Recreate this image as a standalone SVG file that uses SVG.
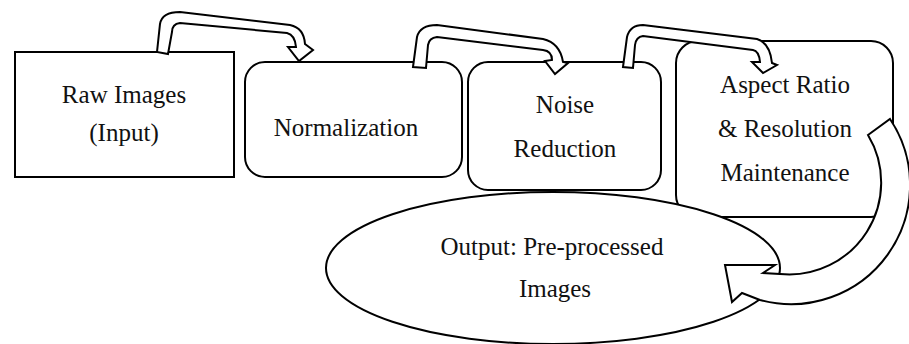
<svg xmlns="http://www.w3.org/2000/svg" width="909" height="344" viewBox="0 0 909 344">
  <style>
    .box { fill: #ffffff; stroke: #000000; stroke-width: 2; }
    .lbl { font-family: "Liberation Serif", "Times New Roman", serif; font-size: 25px; fill: #111111; text-anchor: middle; }
    .arrow { fill: #ffffff; stroke: #000000; stroke-width: 2; stroke-linejoin: miter; }
  </style>
  <rect width="909" height="344" fill="#ffffff"/>

  <!-- Process steps -->
  <g id="raw-images">
    <rect class="box" x="15" y="52" width="219" height="125"/>
    <text class="lbl" x="124" y="103">Raw Images</text>
    <text class="lbl" x="124" y="141">(Input)</text>
  </g>

  <g id="normalization">
    <rect class="box" x="245" y="62" width="217" height="115" rx="20" ry="20"/>
    <text class="lbl" x="346" y="136">Normalization</text>
  </g>

  <g id="noise-reduction">
    <rect class="box" x="468" y="62" width="193" height="128" rx="20" ry="20"/>
    <text class="lbl" x="565" y="113">Noise</text>
    <text class="lbl" x="565" y="157">Reduction</text>
  </g>

  <g id="aspect-ratio">
    <rect class="box" x="676" y="41" width="217" height="176" rx="22" ry="22"/>
    <text class="lbl" x="785" y="93">Aspect Ratio</text>
    <text class="lbl" x="785" y="137">&amp; Resolution</text>
    <text class="lbl" x="785" y="181">Maintenance</text>
  </g>

  <g id="output">
    <ellipse class="box" cx="553" cy="268" rx="227" ry="76"/>
    <text class="lbl" x="552" y="255">Output: Pre-processed</text>
    <text class="lbl" x="555" y="297">Images</text>
  </g>

  <!-- Bent block arrows between steps, and the return arrow to the output -->
  <g id="connectors">
    <path class="arrow" d="M157,52 L160,24 Q162,12 180,12 L290,25 Q304,28 305,44 L313,50 L299,61 L288,47 L296,47 Q295,35 287,33 L180,23 Q172,24 172,32 L168,54 Z"/>
    <path class="arrow" d="M413,67 L417,37 Q420,25 437,25 L543,39 Q560,43 563,62 L568,63 L555,74 L545,61 L552,60 Q552,51 543,50 L437,37 Q429,38 428,45 L426,68 Z"/>
    <path class="arrow" d="M623,67 L627,37 Q630,25 643,25 L757,39 Q770,43 772,63 L777,65 L763,73 L752,62 L760,62 Q759,51 753,50 L643,36 Q636,37 635,45 L633,68 Z"/>
    <path class="arrow" d="M868,135 L890,119 A119,119 0 0 1 760,300 L742,293 L732,302 L725,265 L775,265 L763,273 L780,274 A92,92 0 0 0 868,135 Z"/>
  </g>
</svg>
